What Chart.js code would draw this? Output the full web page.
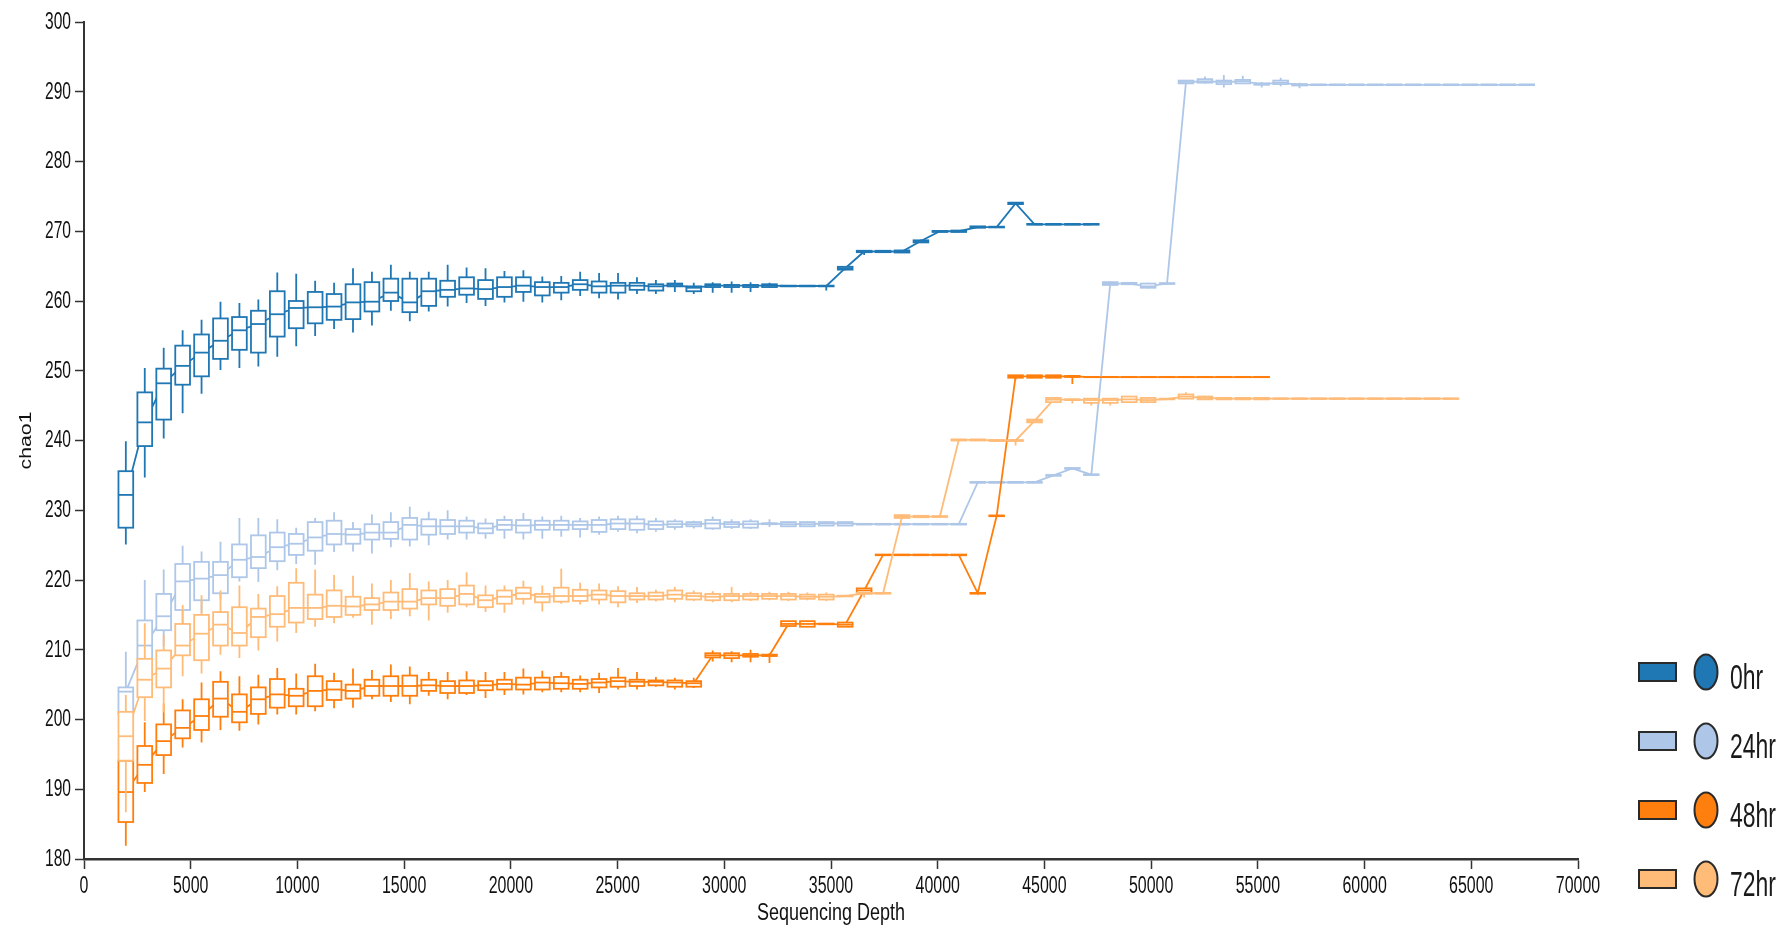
<!DOCTYPE html>
<html>
<head>
<meta charset="utf-8">
<script src="https://cdn.jsdelivr.net/npm/chart.js@4.4.1/dist/chart.umd.min.js"></script>
<style>
html,body{margin:0;padding:0;background:#fff;}
#wrap{width:1787px;height:929px;position:relative;}
canvas{display:block;}
</style>
</head>
<body>
<div id="wrap"><canvas id="c" width="1787" height="929"></canvas></div>
<script>
// ---------------- data ----------------
const depths = [1960,2847,3734,4621,5508,6395,7282,8169,9056,9943,
10830,11717,12604,13491,14378,15265,16152,17039,17926,18813,
19700,20587,21474,22361,23248,24135,25022,25909,26796,27683,
28570,29457,30344,31231,32118,33005,33892,34779,35666,36553,
37440,38327,39214,40101,40988,41875,42762,43649,44536,45423,
46310,47197,48084,48971,49858,50745,51632,52519,53406,54293,
55180,56067,56954,57841,58728,59615,60502,61389,62276,63163,
64050,64937,65824,66711,67598];

const groupNames = ['0hr','24hr','48hr','72hr'];
const xTickValues = [0,5000,10000,15000,20000,25000,30000,35000,40000,45000,50000,55000,60000,65000,70000];
const yTickValues = [180,190,200,210,220,230,240,250,260,270,280,290,300];
const xTitle = 'Sequencing Depth';
const yTitle = 'chao1';

// 0hr
const hr0Max = [239.9,250.4,253.3,255.8,257.3,259.9,259.7,260.2,264.1,263.9,
262.9,262.6,264.7,264.2,265.2,264.2,264.2,265.2,264.8,264.7,
264.3,264.4,263.5,263.6,264.2,264.0,264.0,263.4,263.0,263.0,
262.6,262.7,262.8,262.7,262.6,262.2,262.2,262.2,264.9,267.3,
267.2,267.2,268.8,270.1,270.1,270.7,270.7,274.1,271.1,271.1,
271.1,271.1];
const hr0Q3 = [235.6,246.9,250.3,253.6,255.2,257.5,257.7,258.6,261.4,260.0,
261.3,261.0,262.4,262.7,263.2,263.2,263.2,262.9,263.4,263.0,
263.4,263.4,262.7,262.6,263.0,262.8,262.6,262.6,262.4,262.5,
262.1,262.4,262.3,262.3,262.4,262.2,262.2,262.2,264.9,267.2,
267.2,267.25,268.7,270.05,270.1,270.7,270.65,274.1,271.05,271.05,
271.05,271.05];
const hr0Med = [232.2,242.6,248.2,250.7,252.6,254.3,255.8,256.7,258.1,259.0,
259.1,259.2,259.8,259.9,261.2,259.8,261.4,261.6,261.8,261.7,
262.0,262.2,262.0,262.0,262.4,262.1,262.2,262.2,262.1,262.3,
261.9,262.2,262.2,262.2,262.2,262.15,262.15,262.15,264.7,267.1,
267.1,267.1,268.6,270.0,270.0,270.6,270.6,274.0,271.0,271.0,
271.0,271.0];
const hr0Q1 = [227.5,239.2,243.0,248.0,249.2,251.7,253.0,252.6,254.9,256.1,
256.8,257.3,257.4,258.5,260.0,258.4,259.3,260.6,260.9,260.3,
260.6,261.3,260.8,261.2,261.6,261.2,261.2,261.6,261.5,262.1,
261.4,262.0,262.0,262.0,262.0,262.1,262.1,262.1,264.5,267.0,
267.0,266.95,268.4,269.9,269.9,270.5,270.55,273.9,270.95,270.95,
270.95,270.95];
const hr0Min = [225.1,234.7,240.3,243.9,246.7,250.1,250.4,250.6,252.0,253.5,
255.0,256.0,255.5,256.5,258.6,257.1,258.5,259.2,259.7,259.3,
259.8,259.9,259.8,260.1,260.7,260.4,260.2,261.0,261.0,261.3,
261.0,261.2,261.2,261.3,261.9,262.1,262.1,261.5,264.4,266.6,
267.0,266.9,268.3,269.9,269.9,270.5,270.5,273.9,270.9,270.9,
270.9,270.9];

// 24hr
const hr24Max = [209.7,220.0,221.5,224.9,224.1,225.5,228.9,228.9,228.7,227.5,
228.9,229.7,228.3,229.4,229.7,230.5,229.8,230.0,229.1,228.8,
229.2,229.6,229.1,229.2,228.9,229.1,229.2,229.2,228.9,228.7,
228.5,229.1,228.7,228.7,228.7,228.4,228.4,228.4,228.4,228.1,
228.1,228.1,228.1,228.1,228.1,234.1,234.1,234.1,234.1,235.1,
236.1,235.2,262.8,262.7,262.6,262.6,291.7,292.2,292.4,292.3,
291.4,292.0,291.3,291.1,291.1,291.1,291.1,291.1,291.1,291.1,
291.1,291.1,291.1,291.1,291.1];
const hr24Q3 = [204.6,214.2,218.0,222.3,222.6,222.6,225.1,226.4,226.8,226.6,
228.3,228.5,227.3,228.0,228.3,228.9,228.7,228.6,228.5,228.1,
228.6,228.6,228.5,228.5,228.4,228.6,228.7,228.7,228.4,228.4,
228.3,228.6,228.3,228.4,228.1,228.3,228.3,228.3,228.3,228.05,
228.05,228.05,228.05,228.05,228.05,234.05,234.05,234.05,234.05,235.05,
236.05,235.15,262.7,262.6,262.5,262.55,291.6,291.8,291.6,291.7,
291.2,291.6,291.1,291.05,291.05,291.05,291.05,291.05,291.05,291.05,
291.05,291.05,291.05,291.05,291.05];
const hr24Med = [204.0,210.6,214.8,219.8,220.2,220.7,222.9,223.3,224.7,225.2,
226.1,226.6,226.5,226.8,226.8,227.9,227.7,227.7,227.7,227.4,
227.9,227.8,227.9,227.9,227.9,227.9,228.1,228.1,227.9,228.0,
228.0,228.1,228.0,228.0,228.1,228.0,228.0,228.1,228.1,228.0,
228.0,228.0,228.0,228.0,228.0,234.0,234.0,234.0,234.0,235.0,
236.0,235.1,262.5,262.5,262.1,262.5,291.4,291.5,291.4,291.5,
291.1,291.3,291.0,291.0,291.0,291.0,291.0,291.0,291.0,291.0,
291.0,291.0,291.0,291.0,291.0];
const hr24Q1 = [200.8,208.3,212.8,215.7,217.1,218.1,220.4,221.7,222.7,223.6,
224.2,225.1,225.2,225.8,225.9,225.8,226.5,226.6,226.8,226.7,
227.2,226.8,227.2,227.2,227.3,226.9,227.3,227.2,227.3,227.6,
227.7,227.4,227.6,227.5,228.0,227.7,227.7,227.8,227.8,227.95,
227.95,227.95,227.95,227.95,227.95,233.95,233.95,233.95,233.95,234.95,
235.95,235.05,262.3,262.4,261.9,262.45,291.2,291.3,291.1,291.2,
291.0,291.1,290.9,290.95,290.95,290.95,290.95,290.95,290.95,290.95,
290.95,290.95,290.95,290.95,290.95];
const hr24Min = [196.0,207.0,210.5,213.8,215.3,217.2,219.8,219.7,221.4,222.3,
222.2,224.0,224.1,223.8,224.7,224.8,225.0,225.8,225.8,225.9,
225.9,225.8,225.9,226.2,226.1,226.5,226.9,226.7,226.9,227.2,
227.4,227.2,227.3,227.3,227.6,227.6,227.6,227.8,227.8,227.9,
227.9,227.9,227.9,227.9,227.9,233.9,233.9,233.9,233.9,234.9,
235.9,235.0,262.2,262.3,261.8,262.4,291.2,291.2,290.6,291.1,
290.6,290.8,290.5,290.9,290.9,290.9,290.9,290.9,290.9,290.9,
290.9,290.9,290.9,290.9,290.9];

// 48hr
const hr48Max = [199.0,199.6,202.3,202.9,205.3,206.9,206.2,206.4,207.4,206.6,
208.0,206.7,207.3,207.1,207.9,207.6,206.8,206.8,206.9,206.8,
206.8,207.3,207.0,206.8,206.3,206.7,207.4,206.8,206.1,206.0,
206.0,209.9,209.8,210.0,209.5,214.1,214.1,213.8,213.9,218.8,
223.7,223.7,223.7,223.7,223.7,218.2,229.3,249.4,249.4,249.4,
249.3,249.15,249.15,249.15,249.15,249.15,249.15,249.15,249.15,249.15,
249.15];
const hr48Q3 = [194.1,196.2,199.3,201.3,202.9,205.4,203.6,204.6,205.8,204.4,
206.2,205.5,205.0,205.7,206.2,206.3,205.7,205.5,205.6,205.5,
205.7,206.0,206.0,206.1,205.7,205.8,206.0,205.7,205.6,205.6,
205.5,209.5,209.5,209.4,209.3,214.1,214.1,213.75,213.9,218.8,
223.65,223.65,223.65,223.65,223.65,218.15,229.25,249.35,249.35,249.35,
249.25,249.12,249.12,249.12,249.12,249.12,249.12,249.12,249.12,249.12,
249.12];
const hr48Med = [189.6,193.5,196.9,198.8,200.5,203.0,201.1,202.9,203.6,203.4,
204.1,204.3,204.1,204.8,204.8,204.8,204.9,204.8,204.8,204.9,
205.1,205.0,205.3,205.2,205.1,205.3,205.5,205.4,205.4,205.3,
205.2,209.2,209.2,209.2,209.2,213.7,213.7,213.7,213.6,218.5,
223.6,223.6,223.6,223.6,223.6,218.1,229.2,249.2,249.2,249.2,
249.2,249.1,249.1,249.1,249.1,249.1,249.1,249.1,249.1,249.1,
249.1];
const hr48Q1 = [185.3,190.9,194.9,197.3,198.5,200.4,199.6,200.8,201.7,201.9,
201.9,202.8,203.0,203.4,203.4,203.4,204.1,203.8,203.8,204.2,
204.3,204.3,204.3,204.4,204.4,204.6,204.7,204.8,204.9,204.7,
204.7,208.9,208.8,209.0,209.1,213.4,213.3,213.65,213.3,218.1,
223.55,223.55,223.55,223.55,223.55,218.05,229.15,249.0,249.0,249.0,
249.1,249.08,249.08,249.08,249.08,249.08,249.08,249.08,249.08,249.08,
249.08];
const hr48Min = [181.9,189.6,192.2,196.0,196.7,198.5,198.4,199.3,200.7,200.7,
201.2,201.6,201.7,202.9,202.5,202.2,203.4,202.9,203.5,203.1,
203.5,203.6,203.9,203.9,203.9,203.8,204.3,204.3,204.7,204.3,
204.5,208.3,208.2,208.2,208.1,213.4,213.3,213.6,213.3,218.1,
223.5,223.5,223.5,223.5,223.5,218.0,229.1,248.7,249.0,249.0,
248.1,249.05,249.05,249.05,249.05,249.05,249.05,249.05,249.05,249.05,
249.05];

// 72hr
const hr72Max = [203.5,213.8,212.2,216.4,217.8,218.5,219.2,218.0,219.1,221.7,
221.5,220.7,220.6,219.5,220.0,221.0,219.8,220.0,221.1,219.2,
219.2,219.9,219.2,221.6,219.6,219.5,219.1,219.0,218.6,219.0,
218.5,218.4,219.0,218.3,218.3,218.3,218.2,218.2,217.8,218.2,
218.2,229.4,229.3,229.2,240.2,240.2,240.1,240.1,243.0,246.1,
246.0,246.0,246.0,246.3,246.1,246.0,246.9,246.4,246.2,246.2,
246.2,246.05,246.05,246.05,246.05,246.05,246.05,246.05,246.05,246.05,
246.05];
const hr72Q3 = [201.1,208.7,209.9,213.7,215.0,215.4,216.1,215.9,217.7,219.6,
217.9,218.5,217.6,217.4,218.2,218.7,218.5,218.7,219.2,217.8,
218.5,218.9,218.0,218.9,218.6,218.5,218.4,218.1,218.2,218.5,
218.1,218.0,218.0,218.0,218.0,218.0,217.9,217.9,217.75,218.15,
218.15,229.3,229.2,229.15,240.15,240.15,240.05,240.05,243.0,246.1,
245.9,246.0,246.0,246.3,246.1,246.0,246.6,246.3,246.1,246.1,
246.1,246.03,246.03,246.03,246.03,246.03,246.03,246.03,246.03,246.03,
246.03];
const hr72Med = [197.6,205.7,207.3,210.6,212.3,213.6,212.4,214.7,215.1,216.0,
216.0,216.3,216.2,216.5,216.9,216.9,217.4,217.4,218.0,217.1,
217.6,218.1,217.6,217.7,217.7,217.9,217.7,217.7,217.7,217.9,
217.7,217.6,217.7,217.7,217.7,217.7,217.6,217.6,217.7,218.1,
218.1,229.1,229.1,229.1,240.1,240.1,240.0,240.0,242.8,245.85,
245.85,245.8,245.8,245.9,245.8,245.95,246.3,246.1,246.0,246.0,
246.0,246.0,246.0,246.0,246.0,246.0,246.0,246.0,246.0,246.0,
246.0];
const hr72Q1 = [194.1,203.2,204.6,209.2,208.5,210.6,210.6,211.8,213.3,213.9,
214.4,214.7,215.0,215.7,215.7,215.9,216.5,216.3,216.5,216.1,
216.6,217.3,216.8,216.9,217.0,217.2,216.8,217.2,217.2,217.3,
217.2,217.1,217.1,217.2,217.3,217.2,217.3,217.2,217.65,218.05,
218.05,228.9,229.0,229.05,240.0,240.0,239.95,239.95,242.6,245.5,
245.8,245.4,245.4,245.5,245.5,245.9,246.0,245.9,245.9,245.9,
245.9,245.97,245.97,245.97,245.97,245.97,245.97,245.97,245.97,245.97,
245.97];
const hr72Min = [186.7,199.8,201.0,206.2,206.6,209.3,208.8,209.9,211.2,212.4,
213.3,213.8,214.6,213.6,214.4,214.8,214.2,215.3,216.1,215.4,
215.3,216.5,215.5,216.6,216.5,216.5,216.1,216.7,216.9,216.8,
217.0,216.8,216.8,217.0,217.1,217.0,217.1,217.0,217.6,217.5,
218.0,228.8,228.9,229.0,240.0,240.0,239.9,239.3,242.6,245.5,
245.3,245.0,245.0,245.5,245.5,245.9,246.0,245.9,245.9,245.9,
245.9,245.95,245.95,245.95,245.95,245.95,245.95,245.95,245.95,245.95,
245.95];

// ---------------- styles ----------------
const groupColors = ['#1f77b4','#aec7e8','#ff7f0e','#ffbb78'];
const BOX_HALF = 345;      // half box width in depth units
const LINE_W = 1.8;
const TEXT_FONT = "'Liberation Sans', Arial, sans-serif";

const groups = [
  {name: groupNames[0], color: groupColors[0], hi: hr0Max, q3: hr0Q3, med: hr0Med, q1: hr0Q1, lo: hr0Min},
  {name: groupNames[1], color: groupColors[1], hi: hr24Max, q3: hr24Q3, med: hr24Med, q1: hr24Q1, lo: hr24Min},
  {name: groupNames[2], color: groupColors[2], hi: hr48Max, q3: hr48Q3, med: hr48Med, q1: hr48Q1, lo: hr48Min},
  {name: groupNames[3], color: groupColors[3], hi: hr72Max, q3: hr72Q3, med: hr72Med, q1: hr72Q1, lo: hr72Min}
];

const datasets = groups.map((g, gi) => ({
  label: g.name,
  data: g.med.map((v, i) => ({x: depths[i], y: v})),
  borderColor: g.color,
  backgroundColor: g.color,
  borderWidth: LINE_W,
  pointRadius: 0,
  pointHoverRadius: 0,
  tension: 0,
  fill: false,
  showLine: true,
  order: 4 - gi
}));

// draw boxes right after each dataset's median line
const boxPlugin = {
  id: 'boxes',
  afterDatasetDraw(chart, args) {
    const g = groups[args.index];
    if (!g) return;
    const ctx = chart.ctx, xs = chart.scales.x, ys = chart.scales.y;
    ctx.save();
    ctx.strokeStyle = g.color;
    ctx.lineWidth = LINE_W;
    ctx.fillStyle = '#ffffff';
    for (let i = 0; i < g.med.length; i++) {
      const d = depths[i];
      const xc = xs.getPixelForValue(d);
      const xl = xs.getPixelForValue(d - BOX_HALF);
      const xr = xs.getPixelForValue(d + BOX_HALF);
      const yHi = ys.getPixelForValue(g.hi[i]);
      const yQ3 = ys.getPixelForValue(g.q3[i]);
      const yMed = ys.getPixelForValue(g.med[i]);
      const yQ1 = ys.getPixelForValue(g.q1[i]);
      const yLo = ys.getPixelForValue(g.lo[i]);
      ctx.beginPath();
      ctx.moveTo(xc, yHi); ctx.lineTo(xc, yQ3);
      ctx.moveTo(xc, yQ1); ctx.lineTo(xc, yLo);
      ctx.stroke();
      ctx.fillRect(xl, yQ3, xr - xl, yQ1 - yQ3);
      ctx.strokeRect(xl, yQ3, xr - xl, yQ1 - yQ3);
      ctx.beginPath();
      ctx.moveTo(xl, yMed); ctx.lineTo(xr, yMed);
      ctx.stroke();
    }
    ctx.restore();
  }
};

function drawText(ctx, txt, x, y, o) {
  ctx.save();
  ctx.translate(x, y);
  if (o.rot) ctx.rotate(o.rot);
  ctx.scale(o.sx || 1, o.sy || 1);
  ctx.font = o.font;
  ctx.fillStyle = o.color || '#111';
  ctx.textAlign = o.align || 'left';
  ctx.textBaseline = o.baseline || 'alphabetic';
  ctx.fillText(txt, 0, 0);
  ctx.restore();
}

const textPlugin = {
  id: 'texts',
  afterDraw(chart) {
    const ctx = chart.ctx, xs = chart.scales.x, ys = chart.scales.y, ca = chart.chartArea;
    // y tick labels
    yTickValues.forEach(v => {
      drawText(ctx, String(v), ca.left - 13, ys.getPixelForValue(v), {font: '19px ' + TEXT_FONT, sx: 0.82, sy: 1.3, align: 'right', baseline: 'middle'});
    });
    // x tick labels
    xTickValues.forEach(v => {
      drawText(ctx, String(v), xs.getPixelForValue(v), ca.bottom + 34, {font: '19px ' + TEXT_FONT, sx: 0.84, sy: 1.3, align: 'center'});
    });
    // axis titles
    drawText(ctx, xTitle, (ca.left + ca.right) / 2, ca.bottom + 61, {font: '20px ' + TEXT_FONT, sx: 0.9, sy: 1.15, align: 'center'});
    drawText(ctx, yTitle, 31, (ca.top + ca.bottom) / 2, {font: '17px ' + TEXT_FONT, rot: -Math.PI / 2, sx: 1.25, sy: 1.0, align: 'center'});
    // legend
    const rowY = [672, 741, 810, 879];
    groups.forEach((g, i) => {
      const cy = rowY[i];
      ctx.save();
      ctx.lineWidth = 2;
      ctx.strokeStyle = '#2a2a2a';
      ctx.fillStyle = g.color;
      ctx.fillRect(1639, cy - 9, 37, 18);
      ctx.strokeRect(1639, cy - 9, 37, 18);
      ctx.beginPath();
      ctx.ellipse(1706, cy, 11.5, 17.5, 0, 0, Math.PI * 2);
      ctx.fill();
      ctx.stroke();
      ctx.restore();
      drawText(ctx, g.name, 1730, cy + 17, {font: '27px ' + TEXT_FONT, sx: 0.85, sy: 1.33, align: 'left', color: '#1a1a1a'});
    });
  }
};

new Chart(document.getElementById('c'), {
  type: 'scatter',
  data: {datasets},
  options: {
    responsive: false,
    animation: false,
    devicePixelRatio: 1,
    layout: {padding: {left: 75, right: 209, top: 22, bottom: 60}},
    plugins: {legend: {display: false}, tooltip: {enabled: false}, title: {display: false}},
    scales: {
      x: {
        type: 'linear', min: 0, max: 70000,
        ticks: {display: false, stepSize: 5000},
        grid: {display: true, drawOnChartArea: false, drawTicks: true, tickLength: 10, tickColor: '#333', tickWidth: 1.5},
        border: {display: true, color: '#333', width: 2.5},
        title: {display: false}
      },
      y: {
        type: 'linear', min: 180, max: 300,
        ticks: {display: false, stepSize: 10},
        grid: {display: true, drawOnChartArea: false, drawTicks: true, tickLength: 9, tickColor: '#333', tickWidth: 1.5},
        border: {display: true, color: '#333', width: 2},
        title: {display: false}
      }
    }
  },
  plugins: [boxPlugin, textPlugin]
});
</script>
</body>
</html>
